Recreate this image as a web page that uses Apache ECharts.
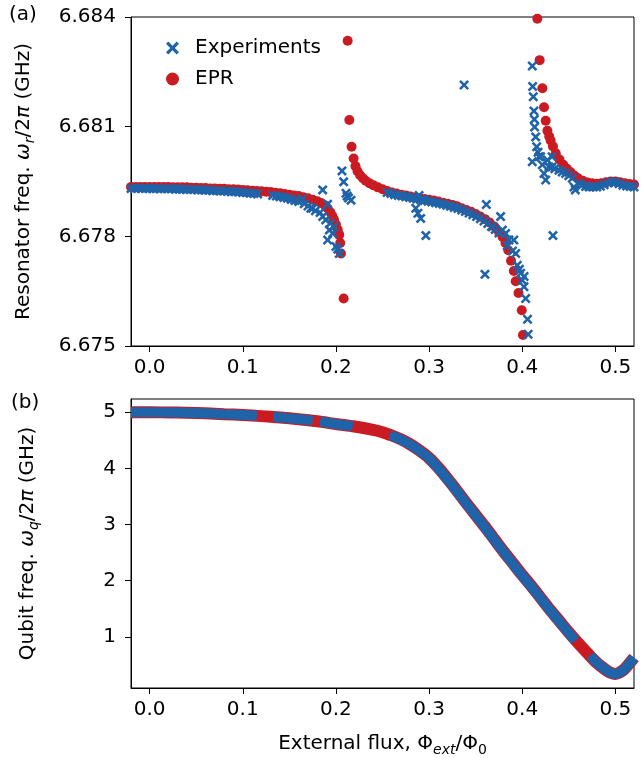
<!DOCTYPE html>
<html>
<head>
<meta charset="utf-8">
<script src="https://cdn.jsdelivr.net/npm/echarts@6/dist/echarts.min.js"></script>
<style>html,body{margin:0;padding:0;background:#fff}#c{width:641px;height:758px}</style>
</head>
<body>
<div id="c"></div>
<script>
// ---------- Panel (a): resonator frequency ----------
const eprResFlux = [-0.020,-0.015,-0.010,-0.005,0.000,0.005,0.010,0.015,0.020,0.025,0.030,0.035,0.040,0.045,0.050,0.055,0.060,0.065,0.070,0.075,0.080,0.085,0.090,0.095,0.100,0.105,0.110,0.115,0.120,0.125,0.130,0.135,0.140,0.145,0.150,0.155,0.160,0.165,0.170,0.175,0.180,0.184,0.188,0.191,0.194,0.196,0.198,0.200,0.202,0.2036,0.2046,0.2054,0.2083,
 0.2126,0.2144,0.2168,0.2190,0.2210,0.2232,0.2260,0.2290,0.2320,0.2360,0.2400,0.2450,0.2500,0.2550,0.2600,0.2650,0.2700,0.2750,0.2800,0.2850,0.2900,0.2950,0.3000,0.3050,0.3100,0.3150,0.3200,0.3250,0.3300,0.3350,0.3400,0.3450,0.3500,0.3550,0.3600,0.3650,0.3700,0.3750,0.3790,0.3820,0.3850,0.3880,0.3910,0.3930,0.3960,0.3995,0.4008,
 0.4162,0.4187,0.4216,0.4234,0.4252,0.4270,0.4290,0.4305,0.4330,0.4360,0.4400,0.4440,0.4480,0.4520,0.4560,0.4600,0.4650,0.4700,0.4750,0.4800,0.4850,0.4900,0.4950,0.5000,0.5050,0.5100,0.5150,0.5200];
const eprResFreq = [6.67935,6.67935,6.67935,6.67935,6.67935,6.67935,6.67935,6.67935,6.67935,6.67934,6.67934,6.67934,6.67934,6.67933,6.67933,6.67932,6.67932,6.67931,6.67931,6.67930,6.67930,6.67929,6.67929,6.67928,6.67927,6.67926,6.67925,6.67924,6.67923,6.67922,6.67921,6.67919,6.67918,6.67916,6.67914,6.67912,6.67910,6.67907,6.67904,6.67900,6.67896,6.67891,6.67885,6.67877,6.67866,6.67856,6.67845,6.67832,6.67818,6.67804,6.67782,6.67753,6.67630,
 6.68335,6.68118,6.68045,6.68013,6.67992,6.67978,6.67967,6.67959,6.67952,6.67945,6.67940,6.67934,6.67929,6.67924,6.67920,6.67917,6.67914,6.67912,6.67909,6.67906,6.67904,6.67902,6.67900,6.67898,6.67895,6.67892,6.67889,6.67886,6.67882,6.67877,6.67872,6.67867,6.67861,6.67854,6.67847,6.67838,6.67827,6.67812,6.67798,6.67782,6.67762,6.67733,6.67705,6.67677,6.67645,6.67598,6.67530,
 6.68395,6.68282,6.68205,6.68153,6.68116,6.68089,6.68073,6.68062,6.68046,6.68027,6.68010,6.67996,6.67985,6.67975,6.67966,6.67959,6.67952,6.67947,6.67945,6.67944,6.67945,6.67948,6.67950,6.67950,6.67948,6.67945,6.67943,6.67942];

const expResFlux = [-0.020,-0.016,-0.012,-0.008,-0.004,0.000,0.004,0.008,0.012,0.016,0.020,0.024,0.028,0.032,0.036,0.040,0.044,0.048,0.052,0.056,0.060,0.064,0.068,0.072,0.076,0.080,0.084,0.088,0.092,0.096,0.100,0.104,0.108,0.112,0.116,
 0.132,0.136,0.140,0.144,0.148,0.152,0.156,0.160,0.164,0.166,0.170,0.173,0.175,0.178,0.1858,0.1858,0.1911,0.1929,0.1911,0.1965,0.1980,0.1940,0.2000,0.2036,0.2020,0.1890,0.1830,0.2065,0.2083,0.2108,0.2120,0.2135,0.2162,
 0.255,0.259,0.263,0.267,0.271,0.275,0.279,0.283,0.287,0.291,0.295,0.299,0.303,0.307,0.311,0.315,0.319,0.323,0.327,0.331,0.335,0.339,0.343,0.347,0.351,0.355,0.359,0.363,0.367,0.371,0.375,
 0.2857,0.2880,0.2910,0.2893,0.2940,0.2965,0.3376,0.3615,0.3600,0.3768,0.3680,0.3787,0.3822,0.3858,0.3910,0.3930,0.3947,0.3983,0.4000,0.4019,0.4037,0.4057,0.4063,0.3840,0.3895,0.3970,0.4020,
 0.4108,0.4112,0.4119,0.4126,0.4130,0.4133,0.4145,0.4155,0.4108,0.4170,0.4180,0.4198,0.4216,0.4234,0.4252,0.4270,0.4287,0.4320,0.4320,0.4350,0.4394,0.4430,0.4466,0.4500,0.4537,0.4555,0.4570,0.4609,0.4640,0.4680,0.4720,0.4760,0.4800,0.4840,0.4880,0.4920,0.4960,0.5000,0.5040,0.5080,0.5120,0.5160,0.5200,0.4330];
const expResFreq = [6.67931,6.67931,6.67932,6.67931,6.67931,6.67931,6.67930,6.67931,6.67930,6.67930,6.67930,6.67930,6.67929,6.67929,6.67929,6.67928,6.67928,6.67928,6.67927,6.67927,6.67926,6.67926,6.67925,6.67925,6.67924,6.67924,6.67923,6.67922,6.67922,6.67921,6.67920,6.67919,6.67918,6.67917,6.67916,
 6.67912,6.67910,6.67908,6.67906,6.67904,6.67901,6.67898,6.67895,6.67903,6.67889,6.67883,6.67877,6.67877,6.67870,6.67927,6.67854,6.67888,6.67817,6.67790,6.67808,6.67826,6.67836,6.67772,6.67753,6.67765,6.67845,6.67865,6.67979,6.67949,6.67918,6.67910,6.67905,6.67899,
 6.67920,6.67917,6.67914,6.67912,6.67910,6.67908,6.67906,6.67904,6.67902,6.67900,6.67898,6.67896,6.67894,6.67892,6.67890,6.67888,6.67885,6.67882,6.67879,6.67876,6.67872,6.67868,6.67864,6.67859,6.67854,6.67848,6.67842,6.67835,6.67827,6.67819,6.67809,
 6.67877,6.67863,6.67849,6.67912,6.67900,6.67802,6.68214,6.67887,6.67696,6.67854,6.67826,6.67817,6.67808,6.67790,6.67790,6.67753,6.67721,6.67699,6.67680,6.67662,6.67630,6.67573,6.67532,6.67775,6.67760,6.67710,6.67690,
 6.68266,6.68210,6.68182,6.68143,6.68120,6.68099,6.68072,6.68045,6.68004,6.68030,6.68018,6.68018,6.67996,6.67972,6.67954,6.68009,6.67990,6.68018,6.67990,6.67985,6.67981,6.67976,6.67972,6.67966,6.67959,6.67935,6.67927,6.67945,6.67940,6.67936,6.67935,6.67935,6.67935,6.67937,6.67941,6.67946,6.67949,6.67948,6.67944,6.67940,6.67938,6.67936,6.67935,6.67802];

// ---------- Panel (b): qubit frequency ----------
const eprQubFlux = [-0.02,0.00,0.02,0.04,0.06,0.08,0.10,0.12,0.14,0.16,0.18,0.20,0.22,0.24,0.25,0.26,0.27,0.28,0.29,0.30,0.31,0.32,0.33,0.34,0.35,0.36,0.37,0.38,0.39,0.40,0.41,0.42,0.43,0.44,0.45,0.46,0.47,0.48,0.49,0.495,0.50,0.505,0.51,0.52];
const eprQubFreq = [5.00,5.00,4.995,4.99,4.98,4.965,4.95,4.93,4.905,4.875,4.84,4.79,4.745,4.685,4.645,4.585,4.515,4.425,4.315,4.185,4.01,3.81,3.60,3.38,3.17,2.96,2.74,2.52,2.31,2.10,1.90,1.69,1.48,1.28,1.08,0.89,0.71,0.54,0.41,0.36,0.34,0.37,0.43,0.63];

const expQubFlux = [-0.02,0.00,0.02,0.04,0.06,0.08,0.10,0.115,0.12,0.133,0.14,0.16,0.175,0.18,0.183,0.20,0.218,0.24,0.258,0.26,0.27,0.28,0.29,0.30,0.31,0.32,0.33,0.34,0.35,0.36,0.37,0.38,0.39,0.40,0.41,0.42,0.43,0.44,0.45,0.457,0.465,0.473,0.48,0.49,0.495,0.50,0.505,0.51,0.52];
const expQubFreq = [5.00,5.00,4.995,4.99,4.98,4.965,4.95,4.935,null,4.918,4.905,4.875,4.85,null,4.835,4.79,4.75,null,4.59,4.58,4.51,4.42,4.31,4.18,4.00,3.80,3.59,3.37,3.16,2.95,2.73,2.51,2.30,2.09,1.89,1.68,1.47,1.27,1.07,0.93,null,0.67,0.54,0.41,0.36,0.34,0.37,0.43,0.63];

// ---------- tick labels ----------
const xTicks = [0.0,0.1,0.2,0.3,0.4,0.5];
const yTicksRes = [6.675,6.678,6.681,6.684];
const yTicksQub = [1,2,3,4,5];

const zip = (a,b) => a.map((v,i) => [v, b[i] === null ? '-' : b[i]]);

const BLUE = '#1f63a8', RED = '#cb1b22';
const FONT = 'DejaVu Sans';
const CROSS = 'path://M0,1.8L1.8,0L5,3.2L8.2,0L10,1.8L6.8,5L10,8.2L8.2,10L5,6.8L1.8,10L0,8.2L3.2,5Z';

const rich = {
  n: {fontFamily: FONT, fontSize: 20, color: '#000', lineHeight: 26},
  i: {fontFamily: FONT, fontSize: 20, color: '#000', fontStyle: 'italic', lineHeight: 26},
  u: {fontFamily: FONT, fontSize: 20, color: '#000', lineHeight: 26},
  s: {fontFamily: FONT, fontSize: 14, color: '#000', fontStyle: 'italic', lineHeight: 14, verticalAlign: 'bottom'},
  s0: {fontFamily: FONT, fontSize: 14, color: '#000', lineHeight: 14, verticalAlign: 'bottom'}
};

function xAxisCfg(gi, withName) {
  return {
    type: 'value', gridIndex: gi, min: -0.02, max: 0.52,
    axisLine: {show: true, onZero: false, lineStyle: {color: '#000', width: 1}},
    axisTick: {show: true, length: 6, lineStyle: {color: '#000', width: 1}, customValues: xTicks},
    axisLabel: {customValues: xTicks, formatter: v => v.toFixed(1), fontFamily: FONT, fontSize: 20, color: '#000', margin: 12},
    splitLine: {show: false},
    name: withName ? '{n|External flux, }{u|Φ}{s|ext}{u|/Φ}{s0|0}' : '',
    nameLocation: 'middle', nameGap: 43,
    nameTextStyle: {rich: rich}
  };
}

const option = {
  animation: false,
  backgroundColor: '#fff',
  grid: [
    {left: 131, top: 17, right: 7, height: 329, show: true, borderColor: '#000', borderWidth: 1},
    {left: 131, top: 399, right: 7, height: 291, show: true, borderColor: '#000', borderWidth: 1}
  ],
  xAxis: [xAxisCfg(0, false), xAxisCfg(1, true)],
  yAxis: [
    {
      type: 'value', gridIndex: 0, min: 6.675, max: 6.684,
      axisLine: {show: true, onZero: false, lineStyle: {color: '#000', width: 1}},
      axisTick: {show: true, length: 6, lineStyle: {color: '#000', width: 1}, customValues: yTicksRes},
      axisLabel: {customValues: yTicksRes, formatter: v => v.toFixed(3), fontFamily: FONT, fontSize: 20, color: '#000', margin: 15},
      splitLine: {show: false},
      name: '{n|Resonator freq. }{i|ω}{s|r}{n|/2}{i|π}{n| (GHz)}',
      nameLocation: 'middle', nameRotate: 90, nameGap: 94,
      nameTextStyle: {rich: rich}
    },
    {
      type: 'value', gridIndex: 1, min: 0.09, max: 5.235,
      axisLine: {show: true, onZero: false, lineStyle: {color: '#000', width: 1}},
      axisTick: {show: true, length: 6, lineStyle: {color: '#000', width: 1}, customValues: yTicksQub},
      axisLabel: {customValues: yTicksQub, formatter: v => String(Math.round(v)), fontFamily: FONT, fontSize: 20, color: '#000', margin: 15},
      splitLine: {show: false},
      name: '{n|Qubit freq. }{i|ω}{s|q}{n|/2}{i|π}{n| (GHz)}',
      nameLocation: 'middle', nameRotate: 90, nameGap: 90,
      nameTextStyle: {rich: rich}
    }
  ],
  legend: {
    data: ['Experiments', 'EPR'],
    orient: 'vertical', left: 161, top: 33,
    itemWidth: 13, itemHeight: 13, itemGap: 11,
    textStyle: {fontFamily: FONT, fontSize: 20, color: '#000', padding: [0,0,0,11]},
    selectedMode: false
  },
  graphic: [
    {type: 'text', left: 9, top: 5, style: {text: '(a)', fontFamily: FONT, fontSize: 20, fill: '#000'}},
    {type: 'text', left: 11, top: 393, style: {text: '(b)', fontFamily: FONT, fontSize: 20, fill: '#000'}}
  ],
  series: [
    {
      name: 'EPR', type: 'scatter', xAxisIndex: 0, yAxisIndex: 0,
      symbol: 'circle', symbolSize: 10, itemStyle: {color: RED, opacity: 1},
      data: zip(eprResFlux, eprResFreq), clip: true, z: 2
    },
    {
      name: 'Experiments', type: 'scatter', xAxisIndex: 0, yAxisIndex: 0,
      symbol: CROSS, symbolSize: 10, itemStyle: {color: BLUE, opacity: 1},
      data: zip(expResFlux, expResFreq), clip: true, z: 3
    },
    {
      name: 'EPR', type: 'line', xAxisIndex: 1, yAxisIndex: 1,
      showSymbol: false, smooth: 0.3, lineStyle: {color: RED, width: 12, cap: 'butt'},
      itemStyle: {color: RED},
      data: zip(eprQubFlux, eprQubFreq), clip: true, z: 2
    },
    {
      name: 'Experiments', type: 'line', xAxisIndex: 1, yAxisIndex: 1,
      showSymbol: false, smooth: 0.3, connectNulls: false, lineStyle: {color: BLUE, width: 10, cap: 'butt'},
      itemStyle: {color: BLUE},
      data: zip(expQubFlux, expQubFreq), clip: true, z: 3
    }
  ]
};

const chart = echarts.init(document.getElementById('c'), null, {renderer: 'canvas'});
chart.setOption(option);
</script>
</body>
</html>
